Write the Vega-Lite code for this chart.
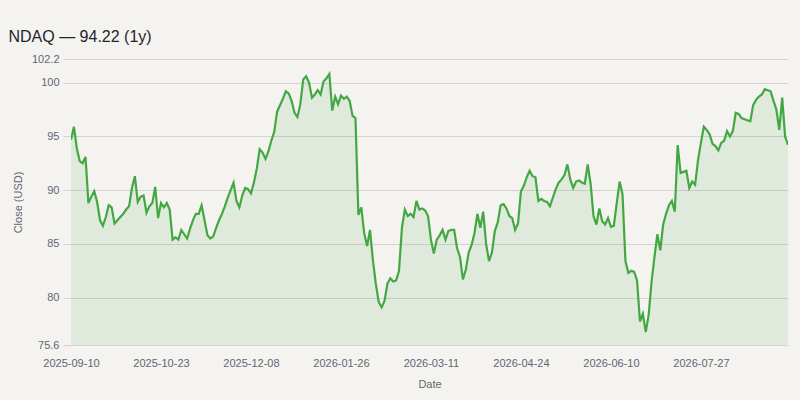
{
  "$schema": "https://vega.github.io/schema/vega-lite/v6.json",
  "description": "NDAQ close, 1y",
  "autosize": {"type": "none"},
  "width": 717,
  "height": 286,
  "padding": {"left": 71, "top": 59, "right": 12, "bottom": 55},
  "background": "#f5f3ef",
  "title": {
    "text": "NDAQ — 94.22 (1y)",
    "anchor": "start",
    "dx": -4,
    "offset": 8,
    "fontSize": 16,
    "fontWeight": "normal",
    "font": "Liberation Sans",
    "color": "#1f2430"
  },
  "config": {
    "view": {"stroke": null},
    "font": "Liberation Sans",
    "axis": {
      "labelFont": "Liberation Sans",
      "titleFont": "Liberation Sans",
      "labelFontSize": 11,
      "titleFontSize": 11,
      "labelColor": "#5f6673",
      "titleColor": "#5f6673",
      "titleFontWeight": "normal",
      "gridColor": "#d3d3d3",
      "tickColor": "#d3d3d3",
      "domain": false
    }
  },
  "data": {
    "values": [
      {"date": "2025-09-10", "close": 94.7},
      {"date": "2025-09-11", "close": 95.9},
      {"date": "2025-09-12", "close": 93.9},
      {"date": "2025-09-15", "close": 92.7},
      {"date": "2025-09-16", "close": 92.5},
      {"date": "2025-09-17", "close": 93.1},
      {"date": "2025-09-18", "close": 88.8},
      {"date": "2025-09-19", "close": 89.4},
      {"date": "2025-09-22", "close": 89.9},
      {"date": "2025-09-23", "close": 88.9},
      {"date": "2025-09-24", "close": 87.2},
      {"date": "2025-09-25", "close": 86.7},
      {"date": "2025-09-26", "close": 87.5},
      {"date": "2025-09-29", "close": 88.6},
      {"date": "2025-09-30", "close": 88.4},
      {"date": "2025-10-01", "close": 86.9},
      {"date": "2025-10-02", "close": 87.2},
      {"date": "2025-10-03", "close": 87.5},
      {"date": "2025-10-06", "close": 87.8},
      {"date": "2025-10-07", "close": 88.2},
      {"date": "2025-10-08", "close": 88.5},
      {"date": "2025-10-09", "close": 90.2},
      {"date": "2025-10-10", "close": 91.3},
      {"date": "2025-10-13", "close": 88.9},
      {"date": "2025-10-14", "close": 89.4},
      {"date": "2025-10-15", "close": 89.5},
      {"date": "2025-10-16", "close": 87.9},
      {"date": "2025-10-17", "close": 88.5},
      {"date": "2025-10-20", "close": 88.8},
      {"date": "2025-10-21", "close": 90.3},
      {"date": "2025-10-22", "close": 87.4},
      {"date": "2025-10-23", "close": 88.8},
      {"date": "2025-10-24", "close": 88.4},
      {"date": "2025-10-27", "close": 88.8},
      {"date": "2025-10-28", "close": 88.2},
      {"date": "2025-10-29", "close": 85.4},
      {"date": "2025-10-30", "close": 85.6},
      {"date": "2025-10-31", "close": 85.4},
      {"date": "2025-11-03", "close": 86.3},
      {"date": "2025-11-04", "close": 85.9},
      {"date": "2025-11-05", "close": 85.5},
      {"date": "2025-11-06", "close": 86.4},
      {"date": "2025-11-07", "close": 87.2},
      {"date": "2025-11-10", "close": 87.8},
      {"date": "2025-11-11", "close": 87.8},
      {"date": "2025-11-12", "close": 88.6},
      {"date": "2025-11-13", "close": 87.2},
      {"date": "2025-11-14", "close": 85.8},
      {"date": "2025-11-17", "close": 85.5},
      {"date": "2025-11-18", "close": 85.7},
      {"date": "2025-11-19", "close": 86.5},
      {"date": "2025-11-20", "close": 87.2},
      {"date": "2025-11-21", "close": 87.8},
      {"date": "2025-11-24", "close": 88.5},
      {"date": "2025-11-25", "close": 89.3},
      {"date": "2025-11-26", "close": 90.0},
      {"date": "2025-11-28", "close": 90.7},
      {"date": "2025-12-01", "close": 89.0},
      {"date": "2025-12-02", "close": 88.4},
      {"date": "2025-12-03", "close": 89.5},
      {"date": "2025-12-04", "close": 90.2},
      {"date": "2025-12-05", "close": 90.1},
      {"date": "2025-12-08", "close": 89.7},
      {"date": "2025-12-09", "close": 90.7},
      {"date": "2025-12-10", "close": 92.0},
      {"date": "2025-12-11", "close": 93.8},
      {"date": "2025-12-12", "close": 93.5},
      {"date": "2025-12-15", "close": 92.9},
      {"date": "2025-12-16", "close": 93.6},
      {"date": "2025-12-17", "close": 94.6},
      {"date": "2025-12-18", "close": 95.4},
      {"date": "2025-12-19", "close": 97.3},
      {"date": "2025-12-22", "close": 97.9},
      {"date": "2025-12-23", "close": 98.5},
      {"date": "2025-12-24", "close": 99.2},
      {"date": "2025-12-29", "close": 99.0},
      {"date": "2025-12-30", "close": 98.3},
      {"date": "2025-12-31", "close": 97.2},
      {"date": "2026-01-02", "close": 96.8},
      {"date": "2026-01-05", "close": 98.0},
      {"date": "2026-01-06", "close": 100.3},
      {"date": "2026-01-07", "close": 100.6},
      {"date": "2026-01-08", "close": 100.0},
      {"date": "2026-01-09", "close": 98.6},
      {"date": "2026-01-12", "close": 98.9},
      {"date": "2026-01-13", "close": 99.3},
      {"date": "2026-01-14", "close": 98.9},
      {"date": "2026-01-15", "close": 100.1},
      {"date": "2026-01-16", "close": 100.4},
      {"date": "2026-01-20", "close": 100.8},
      {"date": "2026-01-21", "close": 97.4},
      {"date": "2026-01-22", "close": 98.7},
      {"date": "2026-01-23", "close": 98.0},
      {"date": "2026-01-26", "close": 98.8},
      {"date": "2026-01-27", "close": 98.5},
      {"date": "2026-01-28", "close": 98.7},
      {"date": "2026-01-29", "close": 98.3},
      {"date": "2026-01-30", "close": 96.9},
      {"date": "2026-02-02", "close": 96.7},
      {"date": "2026-02-03", "close": 87.7},
      {"date": "2026-02-04", "close": 88.4},
      {"date": "2026-02-05", "close": 86.0},
      {"date": "2026-02-06", "close": 84.8},
      {"date": "2026-02-09", "close": 86.3},
      {"date": "2026-02-10", "close": 83.5},
      {"date": "2026-02-11", "close": 81.3},
      {"date": "2026-02-12", "close": 79.6},
      {"date": "2026-02-13", "close": 79.1},
      {"date": "2026-02-17", "close": 79.7},
      {"date": "2026-02-18", "close": 81.3},
      {"date": "2026-02-19", "close": 81.8},
      {"date": "2026-02-20", "close": 81.5},
      {"date": "2026-02-23", "close": 81.6},
      {"date": "2026-02-24", "close": 82.5},
      {"date": "2026-02-25", "close": 86.5},
      {"date": "2026-02-26", "close": 88.2},
      {"date": "2026-02-27", "close": 87.6},
      {"date": "2026-03-02", "close": 87.8},
      {"date": "2026-03-03", "close": 87.5},
      {"date": "2026-03-04", "close": 89.0},
      {"date": "2026-03-05", "close": 88.2},
      {"date": "2026-03-06", "close": 88.3},
      {"date": "2026-03-09", "close": 88.1},
      {"date": "2026-03-10", "close": 87.6},
      {"date": "2026-03-11", "close": 85.4},
      {"date": "2026-03-12", "close": 84.1},
      {"date": "2026-03-13", "close": 85.4},
      {"date": "2026-03-16", "close": 85.8},
      {"date": "2026-03-17", "close": 86.3},
      {"date": "2026-03-18", "close": 85.4},
      {"date": "2026-03-19", "close": 86.2},
      {"date": "2026-03-20", "close": 86.3},
      {"date": "2026-03-23", "close": 86.3},
      {"date": "2026-03-24", "close": 84.6},
      {"date": "2026-03-25", "close": 83.8},
      {"date": "2026-03-26", "close": 81.7},
      {"date": "2026-03-27", "close": 82.6},
      {"date": "2026-03-30", "close": 84.2},
      {"date": "2026-03-31", "close": 84.9},
      {"date": "2026-04-01", "close": 86.0},
      {"date": "2026-04-02", "close": 87.8},
      {"date": "2026-04-06", "close": 86.5},
      {"date": "2026-04-07", "close": 88.0},
      {"date": "2026-04-08", "close": 85.0},
      {"date": "2026-04-09", "close": 83.4},
      {"date": "2026-04-10", "close": 84.2},
      {"date": "2026-04-13", "close": 86.2},
      {"date": "2026-04-14", "close": 87.0},
      {"date": "2026-04-15", "close": 88.6},
      {"date": "2026-04-16", "close": 88.7},
      {"date": "2026-04-17", "close": 88.3},
      {"date": "2026-04-20", "close": 87.6},
      {"date": "2026-04-21", "close": 87.4},
      {"date": "2026-04-22", "close": 86.3},
      {"date": "2026-04-23", "close": 86.9},
      {"date": "2026-04-24", "close": 89.9},
      {"date": "2026-04-27", "close": 90.4},
      {"date": "2026-04-28", "close": 91.2},
      {"date": "2026-04-29", "close": 91.8},
      {"date": "2026-04-30", "close": 91.3},
      {"date": "2026-05-04", "close": 91.2},
      {"date": "2026-05-05", "close": 89.0},
      {"date": "2026-05-06", "close": 89.2},
      {"date": "2026-05-07", "close": 89.0},
      {"date": "2026-05-08", "close": 88.9},
      {"date": "2026-05-11", "close": 88.5},
      {"date": "2026-05-12", "close": 89.3},
      {"date": "2026-05-13", "close": 90.1},
      {"date": "2026-05-14", "close": 90.7},
      {"date": "2026-05-15", "close": 91.0},
      {"date": "2026-05-18", "close": 91.4},
      {"date": "2026-05-19", "close": 92.4},
      {"date": "2026-05-20", "close": 91.0},
      {"date": "2026-05-21", "close": 90.2},
      {"date": "2026-05-22", "close": 90.8},
      {"date": "2026-05-26", "close": 90.9},
      {"date": "2026-05-27", "close": 90.7},
      {"date": "2026-05-28", "close": 90.6},
      {"date": "2026-05-29", "close": 92.4},
      {"date": "2026-06-01", "close": 90.6},
      {"date": "2026-06-02", "close": 87.6},
      {"date": "2026-06-03", "close": 86.8},
      {"date": "2026-06-04", "close": 88.3},
      {"date": "2026-06-05", "close": 87.1},
      {"date": "2026-06-08", "close": 86.8},
      {"date": "2026-06-09", "close": 87.4},
      {"date": "2026-06-10", "close": 86.6},
      {"date": "2026-06-11", "close": 86.7},
      {"date": "2026-06-12", "close": 88.8},
      {"date": "2026-06-15", "close": 90.8},
      {"date": "2026-06-16", "close": 89.6},
      {"date": "2026-06-17", "close": 83.4},
      {"date": "2026-06-18", "close": 82.3},
      {"date": "2026-06-22", "close": 82.5},
      {"date": "2026-06-23", "close": 82.4},
      {"date": "2026-06-24", "close": 81.6},
      {"date": "2026-06-25", "close": 77.8},
      {"date": "2026-06-26", "close": 78.5},
      {"date": "2026-06-29", "close": 76.8},
      {"date": "2026-06-30", "close": 78.4},
      {"date": "2026-07-01", "close": 81.5},
      {"date": "2026-07-02", "close": 83.8},
      {"date": "2026-07-06", "close": 85.9},
      {"date": "2026-07-07", "close": 84.4},
      {"date": "2026-07-08", "close": 86.8},
      {"date": "2026-07-09", "close": 87.8},
      {"date": "2026-07-10", "close": 88.6},
      {"date": "2026-07-13", "close": 89.0},
      {"date": "2026-07-14", "close": 88.0},
      {"date": "2026-07-15", "close": 94.2},
      {"date": "2026-07-16", "close": 91.6},
      {"date": "2026-07-17", "close": 91.7},
      {"date": "2026-07-20", "close": 91.8},
      {"date": "2026-07-21", "close": 90.2},
      {"date": "2026-07-22", "close": 90.8},
      {"date": "2026-07-23", "close": 90.5},
      {"date": "2026-07-24", "close": 92.8},
      {"date": "2026-07-27", "close": 94.4},
      {"date": "2026-07-28", "close": 95.9},
      {"date": "2026-07-29", "close": 95.6},
      {"date": "2026-07-30", "close": 95.2},
      {"date": "2026-07-31", "close": 94.3},
      {"date": "2026-08-03", "close": 94.1},
      {"date": "2026-08-04", "close": 93.7},
      {"date": "2026-08-05", "close": 94.4},
      {"date": "2026-08-06", "close": 94.6},
      {"date": "2026-08-07", "close": 95.5},
      {"date": "2026-08-10", "close": 95.0},
      {"date": "2026-08-11", "close": 95.5},
      {"date": "2026-08-12", "close": 97.2},
      {"date": "2026-08-13", "close": 97.1},
      {"date": "2026-08-14", "close": 96.7},
      {"date": "2026-08-17", "close": 96.6},
      {"date": "2026-08-18", "close": 96.5},
      {"date": "2026-08-19", "close": 96.4},
      {"date": "2026-08-20", "close": 97.9},
      {"date": "2026-08-21", "close": 98.4},
      {"date": "2026-08-24", "close": 98.7},
      {"date": "2026-08-25", "close": 98.9},
      {"date": "2026-08-26", "close": 99.4},
      {"date": "2026-08-27", "close": 99.3},
      {"date": "2026-08-28", "close": 99.2},
      {"date": "2026-08-31", "close": 98.3},
      {"date": "2026-09-01", "close": 97.5},
      {"date": "2026-09-02", "close": 95.6},
      {"date": "2026-09-03", "close": 98.6},
      {"date": "2026-09-04", "close": 95.0},
      {"date": "2026-09-08", "close": 94.22}
    ]
  },
  "encoding": {
    "x": {
      "field": "date",
      "type": "ordinal",
      "sort": null,
      "scale": {"type": "point", "padding": 0},
      "axis": {
        "title": "Date",
        "values": ["2025-09-10", "2025-10-23", "2025-12-08", "2026-01-26", "2026-03-11", "2026-04-24", "2026-06-10", "2026-07-27"],
        "labelAngle": 0,
        "ticks": false,
        "grid": false,
        "labelPadding": 12,
        "titlePadding": 10
      }
    },
    "y": {
      "field": "close",
      "type": "quantitative",
      "scale": {"domain": [75.6, 102.2], "zero": false, "nice": false},
      "axis": {
        "title": "Close (USD)",
        "values": [75.6, 80, 85, 90, 95, 100, 102.2],
        "format": ".1~f",
        "tickSize": 8,
        "labelPadding": 4,
        "titlePadding": 8
      }
    }
  },
  "layer": [
    {
      "mark": {"type": "area", "color": "#4caf50", "opacity": 0.12, "clip": true}
    },
    {
      "mark": {"type": "line", "color": "#43a843", "strokeWidth": 2.2, "clip": true}
    }
  ]
}
